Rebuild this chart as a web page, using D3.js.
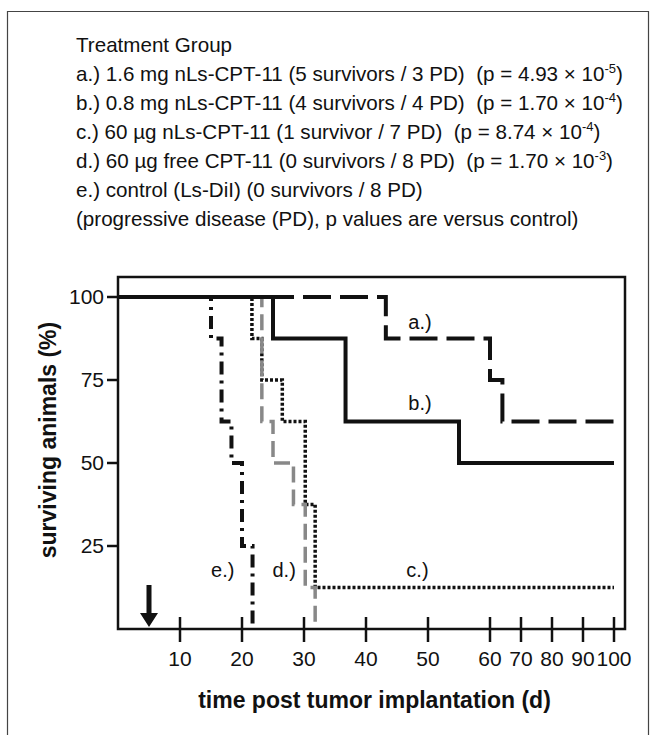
<!DOCTYPE html>
<html>
<head>
<meta charset="utf-8">
<script src="https://cdn.jsdelivr.net/npm/d3@7"></script>
<style>
  body { margin: 0; background: #fff; }
  text { font-family: "Liberation Sans", Arial, Helvetica, sans-serif; white-space: pre; }
</style>
</head>
<body>
<div id="chart"></div>
<script>
// survival steps (day of death, % surviving after it)
var daysA = [0, 43.2, 60, 64, 100];
var survA = [100, 87.5, 75, 62.5, 62.5];
var daysB = [0, 25, 36.7, 55, 100];
var survB = [100, 87.5, 62.5, 50, 50];
var daysC = [0, 21.6, 23.2, 26.5, 30.2, 31.8, 100];
var survC = [100, 87.5, 75, 62.5, 37.5, 12.5, 12.5];
var daysD = [0, 23.2, 25, 28.3, 30.2, 31.8];
var survD = [100, 62.5, 50, 37.5, 12.5, 0];
var daysE = [0, 15, 16.7, 18.3, 20, 21.7];
var survE = [100, 87.5, 62.5, 50, 25, 0];

var xTicks = [10, 20, 30, 40, 50, 60, 70, 80, 90, 100];
var yTicks = [25, 50, 75, 100];
var treatmentDay = 5;

var legendText = [
  "Treatment Group",
  "a.) 1.6 mg nLs-CPT-11 (5 survivors / 3 PD)  (p = 4.93 \u00d7 10",
  "b.) 0.8 mg nLs-CPT-11 (4 survivors / 4 PD)  (p = 1.70 \u00d7 10",
  "c.) 60 \u00b5g nLs-CPT-11 (1 survivor / 7 PD)  (p = 8.74 \u00d7 10",
  "d.) 60 \u00b5g free CPT-11 (0 survivors / 8 PD)  (p = 1.70 \u00d7 10",
  "e.) control (Ls-DiI) (0 survivors / 8 PD)",
  "(progressive disease (PD), p values are versus control)"
];
var legendExp = [null, "-5", "-4", "-4", "-3", null, null];

var W = 655, H = 735;
var svg = d3.select("#chart").append("svg").attr("width", W).attr("height", H);

// outer frame of the figure
svg.append("path").attr("d", "M7.5,740 V11.5 H648.5 V740")
  .attr("fill", "none").attr("stroke", "#444").attr("stroke-width", 1.2);

// legend block
var leg = svg.append("g");
legendText.forEach(function(t, i){
  var tx = leg.append("text").attr("x", 76).attr("y", 52 + i * 29)
    .attr("font-size", 20.6).attr("fill", "#111");
  tx.append("tspan").text(t);
  if (legendExp[i]) {
    tx.append("tspan").attr("font-size", 13).attr("dy", -8).text(legendExp[i]);
    tx.append("tspan").attr("dy", 8).text(")");
  }
});

// scales: linear to day 60, then compressed to day 100
var x = d3.scaleLinear().domain([0, 60, 100]).range([118, 490, 614]);
var y = d3.scaleLinear().domain([0, 100]).range([629, 297]);
var plotTop = 277, plotRight = 625;

var line = d3.line().x(function(d){ return x(d[0]); }).y(function(d){ return y(d[1]); })
  .curve(d3.curveStepAfter);
function pts(ds, ss){ return ds.map(function(d, i){ return [d, ss[i]]; }); }

var curves = svg.append("g").attr("fill", "none").attr("stroke-linecap", "butt");
curves.append("path").attr("d", line(pts(daysC, survC)))
  .attr("stroke", "#111").attr("stroke-width", 3.5).attr("stroke-dasharray", "3,2");
curves.append("path").attr("d", line(pts(daysD, survD)))
  .attr("stroke", "#888").attr("stroke-width", 3.5).attr("stroke-dasharray", "16,7");
curves.append("path").attr("d", line(pts(daysE, survE)))
  .attr("stroke", "#111").attr("stroke-width", 4).attr("stroke-dasharray", "13,6,3,6");
curves.append("path").attr("d", line(pts(daysA, survA)))
  .attr("stroke", "#111").attr("stroke-width", 4).attr("stroke-dasharray", "28,9");
curves.append("path").attr("d", line(pts(daysB, survB)))
  .attr("stroke", "#111").attr("stroke-width", 4);

// plot frame
svg.append("path")
  .attr("d", "M" + x(0) + "," + plotTop + " V" + y(0) + " H" + plotRight + " V" + plotTop + " Z")
  .attr("fill", "none").attr("stroke", "#111").attr("stroke-width", 2.5);

// y axis ticks and labels
var yAxis = svg.append("g");
yAxis.selectAll("line").data(yTicks).enter().append("line")
  .attr("x1", x(0) - 11).attr("x2", x(0)).attr("y1", y).attr("y2", y)
  .attr("stroke", "#111").attr("stroke-width", 2.5);
yAxis.selectAll("text").data(yTicks).enter().append("text")
  .attr("x", x(0) - 14).attr("y", function(d){ return y(d) + 7; })
  .attr("text-anchor", "end").attr("font-size", 21).attr("fill", "#111")
  .text(function(d){ return d; });

// x axis ticks (crossing the axis) and labels
var xAxis = svg.append("g");
xAxis.selectAll("line").data(xTicks).enter().append("line")
  .attr("x1", x).attr("x2", x).attr("y1", y(0) - 12).attr("y2", y(0) + 13)
  .attr("stroke", "#111").attr("stroke-width", 2.5);
xAxis.selectAll("text").data(xTicks).enter().append("text")
  .attr("x", x).attr("y", 666)
  .attr("text-anchor", "middle").attr("font-size", 21).attr("fill", "#111")
  .text(function(d){ return d; });

// axis titles
svg.append("text").attr("x", (x(0) + plotRight) / 2 + 3).attr("y", 708)
  .attr("text-anchor", "middle").attr("font-size", 23).attr("font-weight", "bold")
  .attr("fill", "#111").text("time post tumor implantation (d)");
svg.append("text").attr("transform", "translate(56,440) rotate(-90)")
  .attr("text-anchor", "middle").attr("font-size", 23).attr("font-weight", "bold")
  .attr("fill", "#111").text("surviving animals (%)");

// curve labels
var curveLabels = [["a.)", 48.7, 90.4], ["b.)", 48.7, 66], ["c.)", 48.3, 15.7], ["d.)", 26.8, 15.7], ["e.)", 16.9, 15.7]];
svg.append("g").selectAll("text").data(curveLabels).enter().append("text")
  .attr("x", function(d){ return x(d[1]); }).attr("y", function(d){ return y(d[2]); })
  .attr("text-anchor", "middle").attr("font-size", 20).attr("fill", "#111")
  .text(function(d){ return d[0]; });

// treatment arrow
var ax = x(treatmentDay);
svg.append("path")
  .attr("d", "M" + (ax - 2.5) + ",585 H" + (ax + 2.5) + " V613 H" + (ax + 9) +
    " L" + ax + ",627 L" + (ax - 9) + ",613 H" + (ax - 2.5) + " Z")
  .attr("fill", "#111");
</script>
</body>
</html>
